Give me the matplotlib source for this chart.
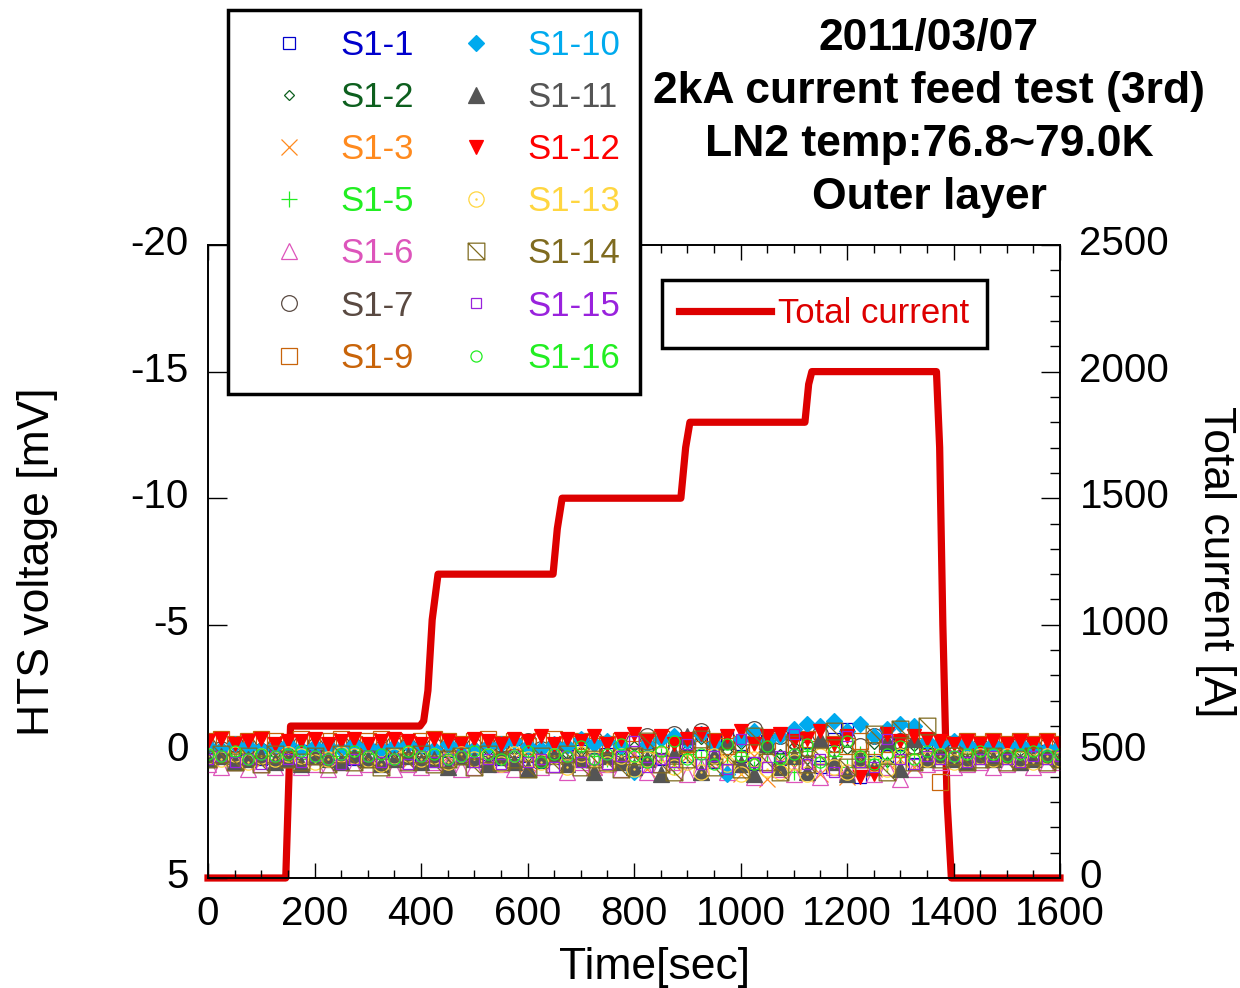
import matplotlib
matplotlib.use('Agg')
import matplotlib.pyplot as plt
from matplotlib.path import Path
from matplotlib.ticker import MultipleLocator
from matplotlib.transforms import ScaledTranslation

plt.rcParams['font.family'] = ['Liberation Sans', 'DejaVu Sans']
plt.rcParams['axes.unicode_minus'] = False

# ---------------- data ----------------
time_s = [0, 25, 50, 75, 100, 125, 150, 175, 200, 225, 250, 275, 300, 325, 350, 375,
          400, 425, 450, 475, 500, 525, 550, 575, 600, 625, 650, 675, 700, 725, 750, 775,
          800, 825, 850, 875, 900, 925, 950, 975, 1000, 1025, 1050, 1075, 1100, 1125, 1150,
          1175, 1200, 1225, 1250, 1275, 1300, 1325, 1350, 1375, 1400, 1425, 1450, 1475,
          1500, 1525, 1550, 1575, 1600]

v_s1_1 = [0.1, 0.2, 0.0, 0.1, 0.3, 0.2, 0.1, 0.0, 0.2, 0.1,
          0.2, 0.3, 0.1, 0.0, 0.2, 0.1, 0.3, 0.2, 0.0, 0.1,
          0.2, 0.1, 0.3, 0.0, 0.2, 0.4, 0.1, 0.2, 0.0, 0.3,
          0.1, 0.2, 0.4, 0.1, 0.3, 0.0, 0.2, -0.3, 0.4, -0.6,
          0.2, 0.5, -0.4, 0.3, -0.7, 0.1, 0.6, -0.5, -0.9, 1.0,
          0.4, 0.2, -0.3, 0.5, 0.1, 0.2, 0.0, 0.1, 0.2, 0.1,
          0.0, 0.2, 0.1, 0.0, 0.1]
v_s1_2 = [0.0, -0.1, 0.1, 0.0, -0.2, 0.1, 0.0, -0.1, 0.2, 0.0,
          -0.1, 0.1, 0.0, -0.2, 0.1, 0.0, 0.2, -0.1, 0.0, 0.1,
          -0.2, 0.0, 0.1, -0.1, 0.2, 0.0, -0.1, 0.1, 0.0, -0.3,
          0.2, 0.0, -0.2, 0.1, -0.4, 0.3, -0.1, -0.5, 0.2, 0.0,
          -0.3, 0.4, -0.6, 0.1, -0.2, 0.3, -0.4, 0.5, -0.1, 0.2,
          -0.3, 0.4, 0.0, -0.2, 0.1, 0.0, -0.1, 0.1, 0.0, -0.1,
          0.1, 0.0, -0.1, 0.1, 0.0]
v_s1_3 = [0.2, 0.3, 0.1, 0.2, 0.4, 0.2, 0.3, 0.1, 0.3, 0.2,
          0.4, 0.2, 0.1, 0.3, 0.2, 0.4, 0.3, 0.1, 0.2, 0.3,
          0.1, 0.4, 0.2, 0.3, 0.5, 0.2, 0.1, 0.4, 0.3, 0.6,
          0.2, 0.4, 0.1, 0.7, 0.3, 0.5, 0.2, 0.8, 0.4, 0.3,
          0.9, 0.2, 1.1, 0.4, 0.6, 0.3, 0.9, 0.5, 1.0, 0.2,
          0.7, 0.4, 0.3, 0.6, 0.2, 0.3, 0.1, 0.2, 0.3, 0.2,
          0.1, 0.3, 0.2, 0.1, 0.2]
v_s1_5 = [0.1, 0.0, 0.2, 0.1, 0.0, 0.2, 0.1, 0.3, 0.0, 0.1,
          0.2, 0.0, 0.1, 0.3, 0.1, 0.2, 0.0, 0.1, 0.2, 0.1,
          0.0, 0.2, 0.1, 0.3, 0.0, 0.2, 0.1, 0.4, 0.0, 0.2,
          0.3, 0.1, 0.5, 0.0, 0.2, 0.6, 0.1, 0.3, 0.0, 0.5,
          0.2, 0.7, 0.1, 0.4, 0.8, 0.0, 0.5, 0.2, 0.6, 0.1,
          0.3, 0.5, 0.2, 0.1, 0.3, 0.1, 0.2, 0.1, 0.0, 0.2,
          0.1, 0.2, 0.0, 0.1, 0.1]
v_s1_6 = [0.5, 0.6, 0.4, 0.7, 0.5, 0.6, 0.3, 0.6, 0.5, 0.7,
          0.4, 0.6, 0.5, 0.3, 0.7, 0.5, 0.6, 0.4, 0.5, 0.7,
          0.6, 0.4, 0.5, 0.7, 0.3, 0.6, 0.5, 0.8, 0.4, 0.6,
          0.5, 0.7, 0.3, 0.8, 0.5, 0.4, 0.9, 0.6, 0.3, 0.8,
          0.5, 1.0, 0.4, 0.7, 0.9, 0.5, 1.0, 0.6, 0.8, 0.4,
          0.9, 0.6, 1.1, 0.7, 0.5, 0.4, 0.6, 0.5, 0.4, 0.6,
          0.5, 0.4, 0.6, 0.5, 0.4]
v_s1_7 = [-0.2, -0.1, -0.3, -0.2, 0.0, -0.2, -0.1, -0.3, -0.2, -0.1,
          -0.3, -0.2, 0.0, -0.1, -0.3, -0.2, -0.1, -0.2, -0.3, 0.0,
          -0.2, -0.1, -0.3, -0.2, -0.4, -0.1, -0.2, 0.0, -0.3, -0.5,
          -0.2, -0.1, -0.4, -0.6, -0.2, -0.7, -0.3, -0.8, -0.1, -0.5,
          -0.3, -0.9, -0.2, -0.6, -0.4, -0.1, -0.7, -0.3, -0.5, -0.2,
          -0.6, -0.3, -0.4, -0.2, -0.1, -0.2, -0.3, -0.1, -0.2, -0.1,
          -0.2, -0.3, -0.1, -0.2, -0.1]
v_s1_9 = [-0.4, -0.5, -0.3, -0.4, -0.5, -0.4, -0.3, -0.5, -0.4, -0.4,
          -0.5, -0.3, -0.4, -0.5, -0.4, -0.3, -0.4, -0.5, -0.4, -0.3,
          -0.4, -0.5, -0.3, -0.4, -0.2, -0.4, -0.5, -0.3, -0.4, -0.2,
          -0.3, -0.4, -0.1, -0.3, -0.5, -0.2, -0.3, -0.1, -0.4, -0.2,
          -0.3, -0.1, -0.4, -0.2, -0.3, -0.5, -0.1, -0.3, -0.2, -0.4,
          -0.2, -0.3, -0.1, -0.2, -0.4, 1.2, -0.3, -0.4, -0.3, -0.4,
          -0.3, -0.4, -0.3, -0.4, -0.3]
v_s1_10 = [-0.2, -0.1, -0.3, -0.2, -0.1, -0.2, -0.3, -0.1, -0.2, -0.2,
           -0.1, -0.3, -0.2, -0.1, -0.2, -0.3, -0.2, -0.1, -0.3, -0.2,
           -0.1, -0.2, -0.3, -0.4, -0.2, -0.1, -0.3, -0.2, -0.5, -0.3,
           -0.4, -0.2, 0.8, -0.3, -0.5, -0.6, -0.4, -0.7, -0.3, 0.9,
           -0.5, -0.8, -0.4, -0.6, -0.9, -1.1, -1.0, -1.2, -0.8, -1.1,
           -0.6, -0.9, -1.1, -1.0, -0.4, -0.3, -0.4, -0.3, -0.2, -0.3,
           -0.2, -0.3, -0.2, -0.1, -0.2]
v_s1_11 = [0.3, 0.2, 0.4, 0.3, 0.2, 0.4, 0.3, 0.5, 0.2, 0.3,
           0.4, 0.2, 0.3, 0.5, 0.3, 0.2, 0.4, 0.3, 0.6, 0.2,
           0.3, 0.5, 0.2, 0.4, 0.7, 0.3, 0.2, 0.5, 0.3, 0.8,
           0.2, 0.4, 0.6, 0.3, 0.9, 0.1, -0.6, 0.8, 0.2, -0.4,
           0.5, 0.9, -0.3, 0.6, 0.2, 0.8, -0.5, 0.4, 0.9, 0.3,
           0.6, -0.4, 0.7, -0.5, 0.3, 0.2, 0.3, 0.4, 0.2, 0.3,
           0.2, 0.4, 0.3, 0.2, 0.3]
v_s1_12 = [-0.4, -0.5, -0.3, -0.4, -0.5, -0.3, -0.4, -0.4, -0.5, -0.3,
           -0.4, -0.5, -0.3, -0.4, -0.5, -0.4, -0.3, -0.5, -0.4, -0.3,
           -0.5, -0.4, -0.3, -0.5, -0.4, -0.6, -0.3, -0.5, -0.4, -0.6,
           -0.3, -0.5, -0.7, -0.4, -0.6, -0.3, -0.5, -0.7, -0.4, -0.6,
           -0.8, -0.3, -0.6, -0.7, -0.4, -0.5, -0.8, -0.3, -0.6, 1.0,
           0.9, -0.7, -0.4, -0.6, -0.5, -0.4, -0.3, -0.4, -0.3, -0.4,
           -0.3, -0.4, -0.3, -0.4, -0.3]
v_s1_13 = [0.2, 0.3, 0.1, 0.4, 0.2, 0.3, 0.1, 0.2, 0.4, 0.3,
           0.1, 0.2, 0.3, 0.5, 0.2, 0.1, 0.3, 0.2, 0.4, 0.1,
           0.3, 0.2, 0.5, 0.1, 0.3, 0.4, 0.2, 0.6, 0.1, 0.3,
           0.5, 0.2, 0.7, 0.3, 0.1, 0.6, 0.4, 0.8, 0.2, 0.5,
           0.9, 0.3, 0.7, 0.8, 0.4, 0.9, 0.2, 0.6, 0.8, 0.3,
           0.5, 0.7, 0.2, 0.4, 0.3, 0.2, 0.4, 0.3, 0.2, 0.3,
           0.2, 0.3, 0.4, 0.2, 0.3]
v_s1_14 = [0.3, 0.1, 0.4, 0.2, 0.5, 0.1, 0.3, 0.4, 0.2, 0.5,
           0.1, 0.4, 0.3, 0.6, 0.2, 0.4, 0.1, 0.5, 0.3, 0.2,
           0.6, 0.1, 0.4, 0.3, 0.7, 0.2, 0.5, 0.1, 0.6, 0.3,
           0.4, 0.7, 0.2, -0.4, 0.5, 0.8, 0.3, -0.5, 0.6, 0.2,
           0.7, -0.6, 0.4, 0.8, -0.3, 0.5, 0.2, -0.8, 0.6, 0.3,
           -0.7, 0.8, -0.9, 0.4, -1.0, 0.3, 0.2, 0.4, 0.3, 0.2,
           0.4, 0.3, 0.2, 0.4, 0.3]
v_s1_15 = [0.3, 0.2, 0.4, 0.3, 0.5, 0.2, 0.3, 0.4, 0.2, 0.3,
           0.5, 0.3, 0.2, 0.4, 0.3, 0.5, 0.2, 0.4, 0.3, 0.2,
           0.4, 0.3, 0.5, 0.2, 0.4, 0.3, 0.6, 0.2, 0.4, 0.3,
           0.5, 0.2, -0.4, 0.6, 0.3, 0.4, -0.3, 0.5, 0.2, 0.7,
           -0.5, 0.4, 0.6, 0.2, -0.7, 0.5, 0.3, 0.8, -0.6, 0.4,
           0.6, -0.5, 0.3, 0.5, 0.2, 0.3, 0.2, 0.4, 0.3, 0.2,
           0.3, 0.4, 0.2, 0.3, 0.2]
v_s1_16 = [0.1, 0.2, 0.0, 0.3, 0.1, 0.2, 0.1, 0.0, 0.2, 0.3,
           0.1, 0.0, 0.2, 0.1, 0.3, 0.0, 0.2, 0.1, 0.3, 0.2,
           0.0, 0.1, 0.3, 0.2, 0.0, 0.4, 0.1, 0.2, -0.2, 0.3,
           0.1, -0.3, 0.2, 0.4, 0.0, -0.4, 0.3, 0.1, 0.5, -0.3,
           0.2, 0.5, -0.2, 0.3, 0.1, -0.3, 0.4, 0.0, -0.4, 0.2,
           0.5, 0.1, -0.2, 0.3, 0.0, 0.1, 0.2, 0.1, 0.0, 0.1,
           0.2, 0.1, 0.0, 0.2, 0.1]

series_names = ['S1-1', 'S1-2', 'S1-3', 'S1-5', 'S1-6', 'S1-7', 'S1-9',
                'S1-10', 'S1-11', 'S1-12', 'S1-13', 'S1-14', 'S1-15', 'S1-16']
series_values = [v_s1_1, v_s1_2, v_s1_3, v_s1_5, v_s1_6, v_s1_7, v_s1_9,
                 v_s1_10, v_s1_11, v_s1_12, v_s1_13, v_s1_14, v_s1_15, v_s1_16]

cur_time = [0, 146, 155, 398, 405, 413, 421, 432, 648, 656, 665, 888, 897, 905,
            1121, 1128, 1134, 1368, 1374, 1380, 1388, 1396, 1600]
cur_amp = [0, 0, 600, 600, 620, 740, 1020, 1200, 1200, 1380, 1500, 1500, 1700, 1800,
           1800, 1950, 2000, 2000, 1700, 1000, 300, 0, 0]

title_lines = ['2011/03/07', '2kA current feed test (3rd)',
               'LN2 temp:76.8~79.0K', 'Outer layer']

# ---------------- styles ----------------
sq_diag = Path([(-1, -1), (1, -1), (1, 1), (-1, 1), (-1, -1), (-1, 1), (1, -1)],
               [Path.MOVETO, Path.LINETO, Path.LINETO, Path.LINETO, Path.CLOSEPOLY,
                Path.MOVETO, Path.LINETO])
circ_dot = Path.make_compound_path(Path.unit_circle(), Path.circle((0, 0), 0.08))

styles = [
    # color, marker, size, filled
    ('#0000CC', 's', 8.3, False),
    ('#0D5F1E', 'D', 5.6, False),
    ('#FF8A1E', 'x', 11.3, False),
    ('#22EE22', '+', 11.7, False),
    ('#DD55BB', '^', 11.3, False),
    ('#5A4A42', 'o', 11.3, False),
    ('#C8640A', 's', 11.7, False),
    ('#00AAEE', 'D', 7.8, True),
    ('#555555', '^', 12.0, True),
    ('#FF0000', 'v', 10.3, True),
    ('#FFD640', circ_dot, 11.0, False),
    ('#7F6B20', sq_diag, 12.0, False),
    ('#9922DD', 's', 7.7, False),
    ('#22EE22', 'o', 8.0, False),
]

W, H = 1240, 988
fig = plt.figure(figsize=(W / 100, H / 100), dpi=100)
ax = fig.add_axes([208 / W, 1 - 878 / H, (1060 - 208) / W, (878 - 245) / H])
ax2 = ax.twinx()
ax.set_zorder(ax2.get_zorder() + 1)
ax.patch.set_visible(False)

# current line
ax2.plot(cur_time, cur_amp, color='#DD0000', lw=5.2, clip_on=False,
         solid_capstyle='projecting', label='Total current', zorder=2)

handles = []
for name, vals, (col, mk, ms, filled) in zip(series_names, series_values, styles):
    h, = ax.plot(time_s, vals, ls='none', marker=mk, ms=ms, mec=col,
                 mfc=col if filled else 'none', mew=0.9, label=name)
    handles.append(h)

# axes limits & ticks
ax.set_xlim(0, 1600)
ax.set_ylim(5, -20)
ax.set_yticks([-20, -15, -10, -5, 0, 5])
ax.xaxis.set_major_locator(MultipleLocator(200))
ax.xaxis.set_minor_locator(MultipleLocator(50))
ax2.set_ylim(0, 2500)
ax2.set_yticks([0, 500, 1000, 1500, 2000, 2500])
ax2.yaxis.set_minor_locator(MultipleLocator(100))

ax.tick_params(axis='x', which='major', direction='in', length=11, width=1,
               top=True, bottom=True, labelsize=29, pad=12)
ax.tick_params(axis='x', which='minor', direction='in', length=6, width=1,
               top=True, bottom=True)
ax.tick_params(axis='y', which='major', direction='in', length=14, width=1,
               left=True, right=False, labelsize=29, pad=14)
ax2.tick_params(axis='y', which='major', direction='in', length=14, width=1,
                labelsize=29, pad=14)
ax2.tick_params(axis='y', which='minor', direction='in', length=7, width=1)

# y tick labels sit a few pixels above their ticks in the reference
up = ScaledTranslation(0, 5 / 100, fig.dpi_scale_trans)
for tk in ax.yaxis.get_major_ticks():
    tk.label1.set_transform(tk.label1.get_transform() + up)
for tk in ax2.yaxis.get_major_ticks():
    tk.label2.set_transform(tk.label2.get_transform() + up)

for a in (ax, ax2):
    for sp in a.spines.values():
        sp.set_linewidth(1.2)
        sp.set_color('black')

ax.set_xlabel('Time[sec]', fontsize=32)
ax.xaxis.set_label_coords(0.5246, -0.142)
ax.xaxis.label.set_va('center')
ax.set_ylabel('HTS voltage [mV]', fontsize=32)
ax.yaxis.set_label_coords(-0.2007, 0.5)
ax.yaxis.label.set_va('center')
ax2.set_ylabel('Total current [A]', fontsize=32, rotation=270)
ax2.yaxis.set_label_coords(1.182, 0.5)
ax2.yaxis.label.set_va('center')

# legends
leg = fig.legend(handles, series_names, ncol=2, loc='upper left',
                 bbox_to_anchor=(228 / W, 1 - 10 / H), bbox_transform=fig.transFigure,
                 fontsize=25, frameon=True, fancybox=False, edgecolor='black',
                 framealpha=1, borderpad=0.55, labelspacing=0.55, handlelength=2.4,
                 handletextpad=0.28, columnspacing=0.6, borderaxespad=0, numpoints=1)
leg.get_frame().set_linewidth(2.5)
for t, st in zip(leg.get_texts(), styles):
    t.set_color(st[0])

leg2 = ax2.legend(loc='upper left', bbox_to_anchor=((662 - 208) / 852, (878 - 280) / 633),
                  fontsize=25, frameon=True, fancybox=False, edgecolor='black',
                  framealpha=1, borderpad=0.5, handlelength=2.65, handletextpad=0.2,
                  borderaxespad=0)
leg2.get_frame().set_linewidth(2.5)
for t in leg2.get_texts():
    t.set_color('#DD0000')

# title block
for line, base in zip(title_lines, [50, 103, 156, 209]):
    fig.text(929 / W, 1 - base / H, line, ha='center', va='baseline',
             fontsize=32, fontweight='bold')

fig.savefig('out.png', dpi=100)
